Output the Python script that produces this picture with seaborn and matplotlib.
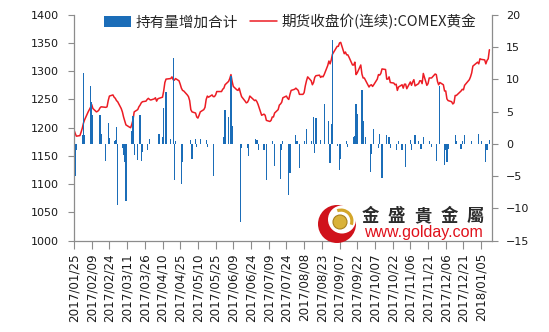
import matplotlib
matplotlib.use("Agg")
import matplotlib.pyplot as plt
import matplotlib.dates as mdates
from matplotlib.patches import Patch, Circle, Wedge
from matplotlib.lines import Line2D
from matplotlib.font_manager import FontProperties
import pandas as pd
import seaborn as sns

# ---- COMEX gold continuous futures close, one list per month (trading days) ----
price_2017_01 = [1196, 1190, 1185, 1186, 1192]
price_2017_02 = [1199, 1208, 1214, 1228, 1232, 1236, 1241, 1234, 1228, 1229,
                 1231, 1235, 1237, 1236, 1237, 1248, 1256, 1258, 1254]
price_2017_03 = [1252, 1248, 1246, 1234, 1228, 1219, 1212, 1205, 1201, 1200,
                 1206, 1214, 1228, 1232, 1237, 1240, 1244, 1246, 1247, 1250,
                 1252, 1250, 1249]
price_2017_04 = [1251, 1253, 1247, 1251, 1252, 1254, 1265, 1280, 1286, 1287,
                 1290, 1285, 1284, 1287, 1283, 1277, 1270, 1266, 1265]
price_2017_05 = [1258, 1255, 1248, 1232, 1228, 1226, 1219, 1217, 1222, 1228,
                 1232, 1236, 1250, 1256, 1254, 1258, 1255, 1255, 1258, 1264,
                 1264, 1268]
price_2017_06 = [1270, 1276, 1282, 1287, 1294, 1282, 1273, 1267, 1266, 1270,
                 1262, 1255, 1247, 1244, 1245, 1249, 1256, 1250, 1248, 1249,
                 1246, 1241]
price_2017_07 = [1222, 1224, 1222, 1213, 1211, 1213, 1219, 1219, 1226, 1232,
                 1240, 1242, 1245, 1253, 1256, 1252, 1250, 1259, 1266, 1268]
price_2017_08 = [1270, 1268, 1266, 1259, 1259, 1262, 1274, 1283, 1290, 1283,
                 1276, 1280, 1289, 1292, 1293, 1289, 1291, 1290, 1294, 1310,
                 1318, 1313, 1320]
price_2017_09 = [1330, 1344, 1344, 1350, 1351, 1331, 1334, 1329, 1329, 1325,
                 1311, 1311, 1316, 1294, 1297, 1311, 1295, 1288, 1288, 1284]
price_2017_10 = [1272, 1275, 1276, 1273, 1276, 1286, 1294, 1293, 1296, 1304,
                 1303, 1286, 1286, 1290, 1280, 1279, 1276, 1277, 1266, 1272,
                 1276, 1270]
price_2017_11 = [1277, 1277, 1269, 1281, 1275, 1281, 1285, 1274, 1278, 1283,
                 1283, 1278, 1296, 1275, 1278, 1288, 1288, 1295, 1294, 1282,
                 1276]
price_2017_12 = [1280, 1276, 1265, 1265, 1251, 1248, 1246, 1242, 1244, 1257,
                 1257, 1263, 1265, 1268, 1267, 1275, 1285, 1290, 1297, 1309]
price_2018_01 = [1316, 1313, 1322, 1321, 1320, 1313, 1319, 1322, 1338]

monthly_prices = [price_2017_01, price_2017_02, price_2017_03, price_2017_04,
                  price_2017_05, price_2017_06, price_2017_07, price_2017_08,
                  price_2017_09, price_2017_10, price_2017_11, price_2017_12,
                  price_2018_01]

market_holidays = ["2017-02-20", "2017-04-14", "2017-05-29", "2017-07-04",
                   "2017-09-04", "2017-11-23", "2017-12-25", "2018-01-01"]

# ---- daily change of total holdings (right axis) ----
flow_dates = [
    "2017-01-26", "2017-01-27", "2017-02-01", "2017-02-02", "2017-02-03",
    "2017-02-08", "2017-02-09", "2017-02-10", "2017-02-16", "2017-02-17",
    "2017-02-21", "2017-02-23", "2017-02-24", "2017-02-28", "2017-03-01",
    "2017-03-02", "2017-03-03", "2017-03-07", "2017-03-08", "2017-03-09",
    "2017-03-10", "2017-03-15", "2017-03-16", "2017-03-17", "2017-03-20",
    "2017-03-22", "2017-03-23", "2017-03-24", "2017-03-28", "2017-03-30",
    "2017-04-07", "2017-04-10", "2017-04-11", "2017-04-13", "2017-04-17",
    "2017-04-19", "2017-04-20", "2017-04-21", "2017-04-26", "2017-04-27",
    "2017-05-04", "2017-05-05", "2017-05-08", "2017-05-09", "2017-05-12",
    "2017-05-17", "2017-05-18", "2017-05-23", "2017-06-01", "2017-06-02",
    "2017-06-05", "2017-06-07", "2017-06-08", "2017-06-15", "2017-06-16",
    "2017-06-21", "2017-06-22", "2017-06-28", "2017-06-29", "2017-06-30",
    "2017-07-05", "2017-07-07", "2017-07-12", "2017-07-14", "2017-07-19",
    "2017-07-20", "2017-07-21", "2017-07-26", "2017-07-27", "2017-08-01",
    "2017-08-02", "2017-08-04", "2017-08-08", "2017-08-10", "2017-08-14",
    "2017-08-16", "2017-08-17", "2017-08-18", "2017-08-22", "2017-08-25",
    "2017-08-29", "2017-08-30", "2017-08-31", "2017-09-01", "2017-09-05",
    "2017-09-07", "2017-09-08", "2017-09-13", "2017-09-14", "2017-09-19",
    "2017-09-20", "2017-09-21", "2017-09-22", "2017-09-26", "2017-09-27",
    "2017-09-29", "2017-10-03", "2017-10-04", "2017-10-06", "2017-10-10",
    "2017-10-11", "2017-10-13", "2017-10-17", "2017-10-19", "2017-10-20",
    "2017-10-25", "2017-10-27", "2017-10-30", "2017-11-02", "2017-11-06",
    "2017-11-07", "2017-11-10", "2017-11-13", "2017-11-15", "2017-11-17",
    "2017-11-22", "2017-11-24", "2017-11-28", "2017-12-01", "2017-12-05",
    "2017-12-06", "2017-12-07", "2017-12-08", "2017-12-14", "2017-12-15",
    "2017-12-19", "2017-12-20", "2017-12-22", "2017-12-28", "2018-01-03",
    "2018-01-05", "2018-01-09", "2018-01-10", "2018-01-12",
]
flow_values = [
    -5.0, -0.9, 1.4, 10.9, 1.4,
    9.0, 6.5, 4.5, 4.5, 1.6,
    -2.7, 3.2, 0.9, 0.5, 0.6,
    2.6, -9.5, -0.6, -1.8, -2.8,
    -8.9, 2.0, 4.3, -1.7, -2.5,
    4.4, -2.6, -1.3, -0.9, 0.7,
    1.6, 1.0, 5.6, 8.0, 0.7,
    13.3, -5.6, 0.4, -6.2, -2.8,
    0.6, -2.3, 0.7, -0.5, 0.7,
    0.6, -0.5, -5.0, 1.1, 5.2,
    4.1, 10.5, 2.7, -12.1, -0.6,
    -0.6, -1.9, 0.8, 0.6, -0.9,
    -1.0, -5.6, 0.4, -3.4, -5.4,
    -1.0, 0.4, -7.9, -4.5, 1.3,
    0.4, -3.7, 0.4, 2.3, 0.5,
    4.2, -1.4, 4.0, 0.6, 6.1,
    3.5, -3.0, 3.1, 16.1, -0.4,
    -4.0, -2.3, 0.5, -0.5, 1.0,
    1.2, 6.2, 4.6, 8.4, 3.6,
    1.0, -4.4, -1.5, 2.3, -0.7,
    1.5, -5.3, 1.3, 1.0, -0.6,
    -1.0, 0.4, -1.0, -3.6, 0.6,
    -1.0, 1.3, 0.4, -0.8, 1.0,
    0.5, -0.5, -2.7, 8.9, -3.3,
    -1.0, -2.8, -0.8, 1.3, 0.5,
    -0.8, 0.5, 1.3, 0.5, 1.5,
    0.4, -2.8, -1.0, 0.6,
]

tick_labels = ["2017/01/25", "2017/02/09", "2017/02/24", "2017/03/11",
               "2017/03/26", "2017/04/10", "2017/04/25", "2017/05/10",
               "2017/05/25", "2017/06/09", "2017/06/24", "2017/07/09",
               "2017/07/24", "2017/08/08", "2017/08/23", "2017/09/07",
               "2017/09/22", "2017/10/07", "2017/10/22", "2017/11/06",
               "2017/11/21", "2017/12/06", "2017/12/21", "2018/01/05"]

bar_label = "持有量增加合计"
line_label = "期货收盘价(连续):COMEX黄金"

# ---- assemble tables ----
trading_days = pd.bdate_range("2017-01-25", "2018-01-12").difference(
    pd.to_datetime(market_holidays))
prices = [p for month in monthly_prices for p in month]
assert len(prices) == len(trading_days)
gold = pd.DataFrame({"date": trading_days, "close": prices})
flows = pd.DataFrame({"date": pd.to_datetime(flow_dates), "change": flow_values})

BLUE = "#1B6DB8"
RED = "#EC1C24"
SPINE = "#8C8C8C"

sns.set_theme(style="white")
plt.rcParams["font.family"] = ["DejaVu Sans", "Noto Sans CJK SC"]

W, H = 549, 332
fig = plt.figure(figsize=(W / 100, H / 100), dpi=100)
fig.subplots_adjust(left=74 / W, right=492 / W, top=1 - 14.7 / H, bottom=1 - 240.7 / H)
ax = fig.add_subplot(111)
ax2 = ax.twinx()

sns.lineplot(data=gold, x="date", y="close", ax=ax, color=RED, linewidth=1.1)
ax2.bar(flows["date"], flows["change"], width=1.0, color=BLUE, linewidth=0)

ax.set_xlim(pd.Timestamp("2017-01-25"), pd.Timestamp("2018-01-14 05:00"))
ax.set_ylim(1000, 1400)
ax.set_yticks(range(1000, 1401, 50))
ax2.set_ylim(-15, 20)
ax2.set_yticks(range(-15, 21, 5))

ax.set_xticks(pd.to_datetime(tick_labels, format="%Y/%m/%d"))
ax.set_xticklabels(tick_labels, rotation=90)
ax.set_xlabel("")
ax.set_ylabel("")
ax2.set_ylabel("")
ax.grid(False)
ax2.grid(False)

for a in (ax, ax2):
    a.spines["top"].set_visible(False)
    for s in a.spines.values():
        s.set_color(SPINE)
        s.set_linewidth(0.9)
ax.spines["right"].set_visible(False)
ax2.spines["left"].set_visible(False)
ax2.spines["bottom"].set_visible(False)

ax.tick_params(axis="y", direction="out", length=4, width=0.8, color=SPINE,
               labelsize=8, pad=7, labelcolor="#1a1a1a", left=True)
ax.tick_params(axis="x", direction="out", length=6, width=0.8, color=SPINE,
               labelsize=8.6, pad=3, labelcolor="#1a1a1a", bottom=True)
ax2.tick_params(axis="y", direction="out", length=4, width=0.8, color=SPINE,
                labelsize=8, pad=6, labelcolor="#1a1a1a", right=True)

legend_font = FontProperties(family=["Noto Sans CJK SC", "DejaVu Sans"], size=10.5)
handles = [Patch(facecolor=BLUE, edgecolor="none"),
           Line2D([], [], color=RED, linewidth=1.1)]
ax2.legend(handles, [bar_label, line_label], loc="center",
           bbox_to_anchor=(0.517, 0.968), ncol=2, frameon=False,
           prop=legend_font, handlelength=1.9, handletextpad=0.3,
           columnspacing=0.8, borderaxespad=0)

# ---- brand mark in the lower right corner ----
over = fig.add_axes([0, 0, 1, 1], zorder=10)
over.set_xlim(0, W)
over.set_ylim(H, 0)
over.axis("off")
over.patch.set_alpha(0)
over.add_patch(Circle((337, 224), 19, color="#D0121B", lw=0))
over.add_patch(Circle((342, 219.5), 14, color="white", lw=0))
over.add_patch(Wedge((341, 221), 12.5, -110, 20, width=3.2, color="#D4A62A", lw=0))
over.add_patch(Circle((340, 222), 7, facecolor="#D9B23A", edgecolor="#A8801C", lw=0.8))
brand_font = FontProperties(family=["Noto Sans CJK TC", "DejaVu Sans"], size=12.5, weight="bold")
for cx, ch in zip([370, 396.3, 422.6, 449, 475.3], "金盛貴金屬"):
    over.text(cx, 216, ch, ha="center", va="center", color="#2b2b2b",
              fontproperties=brand_font)
over.text(423, 233, "www.golday.com", ha="center", va="center",
          color="#E0101A", fontsize=11.5, family=["Liberation Sans", "DejaVu Sans"])

fig.savefig("out.png", dpi=100, facecolor="white")
